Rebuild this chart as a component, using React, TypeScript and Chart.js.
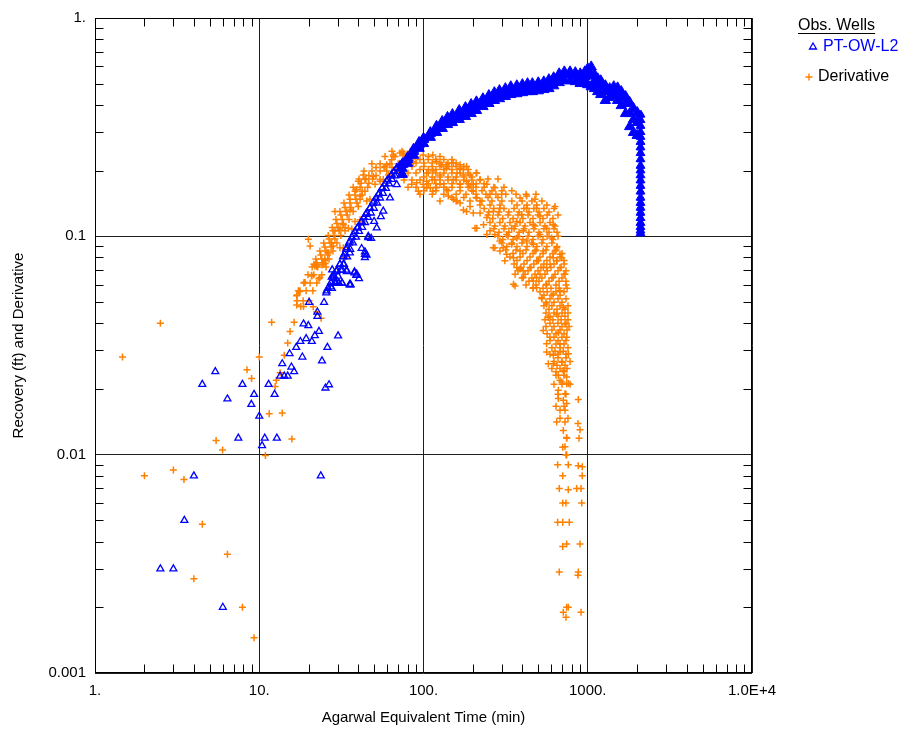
import React, { useEffect, useRef } from 'react';
import { Chart, registerables } from 'chart.js';

Chart.register(...registerables);

const FONT = '"Liberation Sans", Arial, Helvetica, sans-serif';

const xTickValues = [1, 10, 100, 1000, 10000];
const xTickLabels = ['1.', '10.', '100.', '1000.', '1.0E+4'];
const yTickValues = [0.001, 0.01, 0.1, 1];
const yTickLabels = ['0.001', '0.01', '0.1', '1.'];

const xTitle = 'Agarwal Equivalent Time (min)';
const yTitle = 'Recovery (ft) and Derivative';
const legendTitle = 'Obs. Wells';
const wellName = 'PT-OW-L2';
const derivName = 'Derivative';

// Observation well: early, sparse recovery points [time (min), recovery (ft)]
const wellEarly: [number, number][] = [
  [2.5, 0.003], [3.0, 0.003], [3.5, 0.005], [6.0, 0.002], [4.0, 0.008], [23.7, 0.008],
  [5.4, 0.024], [4.5, 0.021], [6.4, 0.018], [7.9, 0.021], [9.3, 0.0189], [8.95, 0.017],
  [10, 0.015], [7.46, 0.0119], [10.8, 0.0119], [10.4, 0.011], [12.8, 0.0119],
  [11.4, 0.021], [12.4, 0.0189], [13.8, 0.0261], [15.7, 0.0252], [16.3, 0.024],
  [13.4, 0.0229], [14.2, 0.0229], [14.9, 0.0229], [15.3, 0.029], [16.8, 0.031],
  [18.3, 0.028], [17.8, 0.033], [19.3, 0.034], [20.9, 0.033], [21.8, 0.0351],
  [23.1, 0.0367], [26, 0.031], [24.1, 0.0269], [25.3, 0.0202], [26.6, 0.0209],
  [30.2, 0.035], [18.6, 0.0397], [19.9, 0.039], [20.1, 0.0498], [22.6, 0.045],
  [22.6, 0.043], [24.8, 0.0498], [25.6, 0.0551], [27.3, 0.061], [29.0, 0.061],
  [30.3, 0.061], [32, 0.061], [27.2, 0.0587], [35.5, 0.06], [28.3, 0.0664],
  [27.8, 0.0702], [32, 0.07], [34, 0.07], [38, 0.0688], [39, 0.0662], [33, 0.083],
  [35.6, 0.084], [44, 0.08],
];

// Observation well: the two strands of the rising limb
const wellStrands: [number, number][] = [
  [25.7, 0.0563], [28.2, 0.0647], [31.0, 0.0745], [34.1, 0.0887], [37.4, 0.102],
  [42.0, 0.117], [47.2, 0.135], [53.1, 0.155], [59.7, 0.179], [68.7, 0.2055],
  [29.5, 0.069], [32.5, 0.081], [35.7, 0.095], [39.5, 0.109], [44.5, 0.126],
  [50, 0.145], [56.3, 0.167], [64, 0.192],
  [35.7, 0.0604], [39.2, 0.0671], [44.0, 0.0828], [46.1, 0.0986], [51.9, 0.1094],
  [56.9, 0.1304], [62.5, 0.15], [68.7, 0.1726], [75.4, 0.1917],
  [27.6, 0.065], [29.4, 0.061], [30.6, 0.061], [31.9, 0.061], [36.0, 0.06],
  [38.0, 0.068], [40.5, 0.064], [34.1, 0.069], [32.5, 0.0745], [44.0, 0.085],
  [45, 0.082], [42, 0.088], [48, 0.098], [46.1, 0.1], [50, 0.117], [55, 0.123],
];

// Observation well: the dense main strand of the rising limb (two close columns)
const limbLevel = [
  0.0578, 0.0616, 0.0657, 0.07, 0.0745, 0.0805, 0.0872, 0.0933, 0.0991, 0.1053, 0.11,
  0.1157, 0.1222, 0.1279, 0.1345, 0.1421, 0.1498, 0.1573, 0.1657, 0.174, 0.1822, 0.1893,
  0.1984, 0.2059, 0.2125, 0.2191,
];
const limbTimeA = [
  26.2, 27.4, 28.5, 29.7, 31.0, 32.4, 33.8, 35.2, 36.7, 38.3, 40.0, 41.7, 43.4, 45.2, 47.2,
  49.3, 51.4, 53.6, 55.9, 58.3, 60.8, 63.4, 66.2, 69.0, 71.9, 75.0,
];
const limbTimeB = [
  27.7, 29.0, 30.2, 31.4, 32.8, 34.3, 35.8, 37.2, 38.8, 40.5, 42.3, 44.1, 45.9, 47.8, 49.9,
  52.2, 54.4, 56.7, 59.1, 61.7, 64.3, 67.1, 70.0, 73.0, 76.1, 79.4,
];

// Observation well: dense band (upper / middle / lower part of the cloud)
const bandTime = [
  74, 80, 87, 94, 100, 110, 120, 130, 140, 150, 165, 180, 195, 210, 230, 250, 270, 290,
  315, 340, 370, 400, 430, 460, 500, 540, 580, 620, 670, 720, 780, 840, 900, 960, 1000,
  1050, 1100, 1150, 1200, 1280, 1360, 1440, 1520, 1600, 1700, 1800, 1900, 2000,
];
const bandUpper = [
  0.2134, 0.2291, 0.2506, 0.2692, 0.281, 0.2986, 0.3192, 0.3358, 0.3505, 0.3613, 0.3769,
  0.3887, 0.4014, 0.4131, 0.4268, 0.4415, 0.4552, 0.465, 0.4748, 0.4846, 0.4895, 0.4954,
  0.5003, 0.5003, 0.5052, 0.5101, 0.5218, 0.5326, 0.5551, 0.5668, 0.5668, 0.5619, 0.5551,
  0.5668, 0.5854, 0.5972, 0.5492, 0.5267, 0.5159, 0.4895, 0.4748, 0.4846, 0.4787, 0.4601,
  0.4366, 0.4102, 0.3847, 0.3691,
];
const bandMid = [
  0.205, 0.225, 0.245, 0.264, 0.278, 0.296, 0.312, 0.328, 0.343, 0.35, 0.365, 0.377,
  0.389, 0.401, 0.414, 0.427, 0.441, 0.45, 0.46, 0.469, 0.474, 0.48, 0.485, 0.485,
  0.49, 0.495, 0.505, 0.516, 0.538, 0.55, 0.55, 0.544, 0.532, 0.538, 0.544, 0.544,
  0.516, 0.5, 0.485, 0.46, 0.46, 0.469, 0.455, 0.432, 0.406, 0.365, 0.343, 0.332,
];
const bandLower = [
  0.192, 0.216, 0.235, 0.253, 0.266, 0.284, 0.299, 0.312, 0.325, 0.332, 0.343, 0.354,
  0.365, 0.377, 0.393, 0.406, 0.419, 0.427, 0.437, 0.446, 0.45, 0.455, 0.46, 0.46,
  0.464, 0.47, 0.475, 0.489, 0.506, 0.516, 0.516, 0.511, 0.501, 0.501, 0.495, 0.484,
  0.475, 0.46, 0.446, 0.419, 0.432, 0.441, 0.419, 0.397, 0.365, 0.318, 0.299, 0.29,
];

// Observation well: final drop at the end of the test
const dropTime = [2080, 2110];
const dropLevels = [
  0.36, 0.34, 0.32, 0.3, 0.285, 0.27, 0.255, 0.24, 0.225, 0.21, 0.2, 0.19, 0.18, 0.17,
  0.16, 0.15, 0.142, 0.135, 0.128, 0.121, 0.115, 0.11, 0.106, 0.103,
];

// Derivative: early sparse points
const derivEarly: [number, number][] = [
  [1.47, 0.028], [2.5, 0.04], [2.0, 0.008], [3.0, 0.0085], [3.48, 0.0077], [4.5, 0.0048],
  [6.4, 0.0035], [4.0, 0.0027], [7.9, 0.002], [9.3, 0.00145], [5.46, 0.0116],
  [5.98, 0.0105], [8.42, 0.0245], [8.98, 0.0223], [10, 0.028], [10.9, 0.0099],
  [11.5, 0.0154], [13.8, 0.0155], [15.8, 0.0118], [11.9, 0.0404], [12.5, 0.0205],
  [12.7, 0.0219], [13.4, 0.0237], [14.2, 0.0285], [14.9, 0.0325], [15.4, 0.0367],
  [16.3, 0.0404],
];

// Derivative: rising part
const derivRise: [number, number][] = [
  [16.9, 0.0485], [17.9, 0.0477], [18.6, 0.0477], [17, 0.0538], [17.6, 0.0559],
  [18.8, 0.0615], [20.8, 0.0664], [23.1, 0.064], [21.5, 0.0745], [22.3, 0.073],
  [24.1, 0.074], [25.2, 0.075], [25.1, 0.0785], [26.1, 0.084], [21.3, 0.0476],
  [22.3, 0.045], [23.8, 0.0422], [19.9, 0.097], [20.4, 0.0903], [17.3, 0.0563],
  [16.9, 0.0534], [19.0, 0.0614], [20.9, 0.0659], [23.4, 0.0647], [21.8, 0.0732],
  [22.3, 0.0745], [24.5, 0.0745], [25.1, 0.0772], [26.4, 0.0842], [27.6, 0.0935],
  [28.2, 0.0903], [28.9, 0.106], [31.0, 0.108], [31.0, 0.0887], [32.5, 0.0887],
  [33.3, 0.0798], [33.3, 0.106], [34.9, 0.109], [36.6, 0.108], [32.5, 0.113],
  [28.9, 0.13], [35.7, 0.132], [38.3, 0.117], [41.1, 0.119], [43.0, 0.117],
  [40.1, 0.137], [41.1, 0.148], [45.1, 0.145], [47.2, 0.148], [41.1, 0.153],
  [39.2, 0.164], [44.0, 0.161], [44.0, 0.182], [40.1, 0.179], [43.0, 0.191],
  [49.5, 0.188], [50.7, 0.173], [54.4, 0.179], [56.9, 0.182], [59.7, 0.199],
  [59.7, 0.213], [64.0, 0.224], [65.5, 0.236], [71.9, 0.241], [75.4, 0.241],
  [80.9, 0.236], [84.8, 0.228], [79.1, 0.213], [71.9, 0.205], [67.1, 0.195],
  [86.7, 0.216],
  [17.0, 0.0507], [18.5, 0.0507], [20.1, 0.0507], [17.7, 0.0563], [19.3, 0.0563],
  [21.2, 0.0563], [18.7, 0.0612], [20.4, 0.0612], [22.4, 0.0612], [19.8, 0.0666],
  [21.5, 0.0666], [24.05, 0.0666], [21.0, 0.0724], [22.7, 0.0724], [25.5, 0.0724],
  [22.1, 0.0788], [24.05, 0.0788], [26.6, 0.0788], [23.4, 0.0857], [25.5, 0.0857],
  [28.1, 0.0857], [24.7, 0.0932], [27.0, 0.0932], [29.7, 0.0932], [26.3, 0.101],
  [28.5, 0.101], [31.4, 0.101], [27.8, 0.1098], [30.2, 0.1098], [33.3, 0.1098],
  [29.3, 0.1195], [32.0, 0.1195], [35.2, 0.1195], [31.0, 0.13], [33.8, 0.13],
  [37.3, 0.13], [32.8, 0.142], [35.7, 0.142], [39.4, 0.142], [35.2, 0.1546],
  [38.3, 0.1546], [42.3, 0.1546], [37.3, 0.168], [41.1, 0.168], [45.7, 0.168],
  [40.5, 0.183], [44.6, 0.183], [49.0, 0.183], [43.4, 0.199], [48.5, 0.199],
  [54.4, 0.199], [48.5, 0.215], [54.4, 0.215], [62.5, 0.215], [70.0, 0.215],
  [58.3, 0.232], [67.1, 0.232], [77.2, 0.232], [88.8, 0.232], [64.25, 0.245],
  [74.0, 0.245], [82.8, 0.245],
  [22.4, 0.0756], [24.5, 0.0756], [23.7, 0.0822], [26.1, 0.0822], [25.1, 0.0894],
  [27.4, 0.0894], [26.6, 0.0972], [28.9, 0.0972], [28.1, 0.106], [30.6, 0.106],
  [29.7, 0.1145], [32.4, 0.1145], [31.4, 0.1253], [34.3, 0.1253], [33.3, 0.1356],
  [36.2, 0.1356], [35.7, 0.148], [38.8, 0.148], [38.3, 0.161], [42.3, 0.161],
  [41.7, 0.1752], [46.5, 0.1752], [46.5, 0.19], [51.4, 0.19], [51.4, 0.2068],
  [57.5, 0.2068], [64.3, 0.2068],
];

// Derivative: peak plateau
const derivPeak: [number, number][] = [
  [99.6, 0.236], [107, 0.232], [114, 0.236], [126, 0.232], [120, 0.22], [138, 0.213],
  [152, 0.216], [167, 0.205], [175, 0.191], [183, 0.179], [192, 0.17], [201, 0.161],
  [211, 0.15], [206, 0.109], [183, 0.13], [167, 0.142], [152, 0.148], [138, 0.164],
  [120, 0.167], [114, 0.161], [104.5, 0.167], [99.6, 0.173], [90.9, 0.176],
  [104.5, 0.195], [126, 0.191], [152, 0.182], [65.6, 0.232], [75.4, 0.236],
  [86.7, 0.22], [58.3, 0.209], [61.1, 0.191], [54.4, 0.182], [84.8, 0.173],
  [93.0, 0.161], [104.5, 0.179], [114, 0.199], [129, 0.213], [138, 0.205],
  [148.5, 0.216], [167, 0.213], [175, 0.2026], [160, 0.195], [183, 0.209],
  [192, 0.191], [211, 0.195], [221, 0.182], [201, 0.173], [167, 0.173], [126, 0.173],
  [117, 0.182], [110, 0.167], [141.6, 0.153], [160, 0.145], [175, 0.132],
  [192, 0.137], [201, 0.128], [221, 0.145],
  [95.2, 0.2246], [106.9, 0.2246], [118.6, 0.2246], [133, 0.2246], [149, 0.2246],
  [76.1, 0.209], [85.1, 0.209], [100.6, 0.209], [113, 0.209], [126, 0.209], [141, 0.209],
  [158, 0.209], [176, 0.209], [71.9, 0.195], [80.5, 0.195], [90.1, 0.195], [107, 0.195],
  [119, 0.195], [133, 0.195], [149, 0.195], [167, 0.195], [186.6, 0.195], [209, 0.195],
  [76.1, 0.181], [85.1, 0.181], [95.2, 0.181], [113, 0.181], [126, 0.181], [141, 0.181],
  [158, 0.181], [176, 0.181], [197, 0.181], [221, 0.181], [80.5, 0.168], [90.1, 0.168],
  [100.6, 0.168], [119, 0.168], [133, 0.168], [149, 0.168], [167, 0.168], [187, 0.168],
  [209, 0.168], [234, 0.168], [95.2, 0.156], [113, 0.156], [133, 0.156], [158, 0.156],
  [181.5, 0.156], [209, 0.156], [240, 0.156], [276, 0.156], [126, 0.145], [158, 0.145],
  [192, 0.145], [227, 0.145], [261, 0.145], [300, 0.145],
  [90.1, 0.2165], [100.6, 0.2165], [113, 0.2165], [126, 0.2165], [141, 0.2165],
  [158, 0.2165], [95.2, 0.2022], [107, 0.2022], [119, 0.2022], [133, 0.2022],
  [149, 0.2022], [167, 0.2022], [187, 0.2022], [100.6, 0.187], [113, 0.187], [126, 0.187],
  [141, 0.187], [158, 0.187], [176, 0.187], [197, 0.187], [107, 0.1743], [119, 0.1743],
  [133, 0.1743], [149, 0.1743], [167, 0.1743], [187, 0.1743], [209, 0.1743],
  [234, 0.1743], [100.6, 0.1618], [119, 0.1618], [141, 0.1618], [167, 0.1618],
  [197, 0.1618], [227, 0.1618], [261, 0.1618], [300, 0.1618], [345, 0.1618],
  [149, 0.1506], [176, 0.1506], [209, 0.1506], [247, 0.1506], [284, 0.1506],
];

// Derivative: falling part
const derivFall: [number, number][] = [
  [243, 0.173], [254, 0.156], [272, 0.167], [299, 0.156], [292, 0.1345], [266, 0.13],
  [243, 0.122], [221, 0.128], [211, 0.109], [232, 0.113], [254, 0.106], [272, 0.102],
  [292, 0.0952], [272, 0.0887], [306, 0.0887], [321, 0.102], [344, 0.109], [370, 0.117],
  [396, 0.126], [425, 0.1345], [387, 0.15], [425, 0.153], [477, 0.148], [488, 0.1345],
  [512, 0.124], [466, 0.113], [405, 0.106], [370, 0.0982], [344, 0.0919], [321, 0.0828],
  [353, 0.0798], [387, 0.0857], [425, 0.0952], [466, 0.0919], [512, 0.102], [562, 0.109],
  [617, 0.113], [603, 0.0982], [536, 0.0857], [488, 0.0772], [445, 0.0719], [387, 0.0708],
  [361, 0.0671], [361, 0.0593], [405, 0.0647], [466, 0.0625], [512, 0.0671], [562, 0.0719],
  [617, 0.0798], [647, 0.0887], [678, 0.0828], [678, 0.0719], [617, 0.0647], [562, 0.0604],
  [488, 0.0582], [632, 0.137], [353, 0.0604], [466, 0.0582], [488, 0.0647], [524, 0.0524],
  [562, 0.049], [617, 0.0544], [678, 0.0563], [727, 0.0671], [710, 0.0472], [647, 0.0441],
  [575, 0.0425], [536, 0.037], [589, 0.0345], [662, 0.0363], [727, 0.0397], [744, 0.0345],
  [678, 0.0322], [562, 0.0322], [647, 0.0772], [694, 0.0798], [632, 0.0857], [589, 0.0745],
  [536, 0.0719], [500, 0.0772], [477, 0.0857], [292, 0.0857], [266, 0.0887], [370, 0.0719],
  [313, 0.0772], [405, 0.0695], [243, 0.102],
  [247, 0.183], [284, 0.183], [268, 0.168], [309, 0.168], [317, 0.156], [366, 0.156],
  [421, 0.156], [484, 0.156], [345, 0.145], [398, 0.145], [457, 0.145], [526, 0.145],
  [234, 0.134], [268, 0.134], [309, 0.134], [356, 0.134], [409, 0.134], [470, 0.134],
  [541, 0.134], [623, 0.134], [247, 0.1253], [284, 0.1253], [327, 0.1253], [376, 0.1253],
  [433, 0.1253], [498, 0.1253], [566, 0.1253], [659, 0.1253], [254, 0.1158], [292, 0.1158],
  [336, 0.1158], [387, 0.1158], [445, 0.1158], [512, 0.1158], [589, 0.1158],
  [268, 0.1082], [309, 0.1082], [356, 0.1082], [409, 0.1082], [470, 0.1082], [541, 0.1082],
  [623, 0.1082], [284, 0.1], [327, 0.1], [376, 0.1], [433, 0.1], [498, 0.1], [566, 0.1],
  [659, 0.1], [300, 0.0932], [345, 0.0932], [398, 0.0932], [457, 0.0932], [526, 0.0932],
  [605, 0.0932], [317, 0.0866], [366, 0.0866], [421, 0.0866], [484, 0.0866], [557, 0.0866],
  [641, 0.0866], [336, 0.0805], [387, 0.0805], [445, 0.0805], [512, 0.0805], [589, 0.0805],
  [678, 0.0805], [356, 0.0747], [409, 0.0747], [470, 0.0747], [541, 0.0747], [623, 0.0747],
  [717, 0.0747], [376, 0.0695], [433, 0.0695], [498, 0.0695], [566, 0.0695], [659, 0.0695],
  [737, 0.0695], [398, 0.0645], [457, 0.0645], [526, 0.0645], [605, 0.0645], [697, 0.0645],
  [421, 0.0599], [484, 0.0599], [557, 0.0599], [641, 0.0599], [737, 0.0599],
  [221, 0.1392], [254, 0.1392], [292, 0.1392], [371, 0.1392], [427, 0.1392], [490, 0.1392],
  [564, 0.1392], [250, 0.1293], [288, 0.1293], [331, 0.1293], [382, 0.1293], [439, 0.1293],
  [505, 0.1293], [581, 0.1293], [264, 0.1208], [304, 0.1208], [351, 0.1208], [403, 0.1208],
  [464, 0.1208], [534, 0.1208], [614, 0.1208], [272, 0.1116], [313, 0.1116], [361, 0.1116],
  [415, 0.1116], [477, 0.1116], [549, 0.1116], [632, 0.1116], [288, 0.1043], [331, 0.1043],
  [382, 0.1043], [439, 0.1043], [505, 0.1043], [581, 0.1043], [650, 0.1043], [304, 0.0967],
  [351, 0.0967], [403, 0.0967], [464, 0.0967], [534, 0.0967], [614, 0.0967], [322, 0.0898],
  [371, 0.0898], [427, 0.0898], [490, 0.0898], [564, 0.0898], [650, 0.0898], [351, 0.0835],
  [403, 0.0835], [464, 0.0835], [534, 0.0835], [614, 0.0835], [697, 0.0835], [371, 0.0776],
  [427, 0.0776], [490, 0.0776], [564, 0.0776], [650, 0.0776], [717, 0.0776], [392, 0.072],
  [451, 0.072], [519, 0.072], [597, 0.072], [688, 0.072], [415, 0.067], [477, 0.067],
  [549, 0.067], [632, 0.067], [717, 0.067], [439, 0.0622], [505, 0.0622], [581, 0.0622],
  [669, 0.0622], [737, 0.0622], [464, 0.0578], [534, 0.0578], [597, 0.0578], [669, 0.0578],
  [748, 0.0578],
];

// Derivative: late column
const derivColumn: [number, number][] = [
  [512, 0.0557], [566, 0.0557], [641, 0.0557], [717, 0.0557], [526, 0.0518], [589, 0.0518],
  [659, 0.0518], [737, 0.0518], [541, 0.0481], [605, 0.0481], [678, 0.0481], [758, 0.0481],
  [557, 0.0446], [623, 0.0446], [697, 0.0446], [758, 0.0446], [549, 0.0415], [614, 0.0415],
  [688, 0.0415], [758, 0.0415], [557, 0.0386], [623, 0.0386], [697, 0.0386], [769, 0.0386],
  [566, 0.0358], [641, 0.0358], [717, 0.0358], [589, 0.0333], [659, 0.0333], [737, 0.0333],
  [605, 0.0309], [678, 0.0309], [758, 0.0309], [589, 0.0288], [659, 0.0288], [737, 0.0288],
  [623, 0.0267], [697, 0.0267], [780, 0.0267], [605, 0.0248], [678, 0.0248], [748, 0.0248],
  [641, 0.0231], [717, 0.0231], [623, 0.021], [697, 0.021], [780, 0.021], [659, 0.0189],
  [737, 0.0189], [641, 0.01666], [717, 0.01666], [678, 0.0147], [758, 0.0147],
  [541, 0.0537], [605, 0.0537], [678, 0.0537], [557, 0.0499], [623, 0.0499], [697, 0.0499],
  [581, 0.0463], [650, 0.0463], [727, 0.0463], [589, 0.0431], [659, 0.0431], [727, 0.0431],
  [589, 0.04], [659, 0.04], [737, 0.04], [605, 0.0372], [678, 0.0372], [748, 0.0372],
  [623, 0.0345], [697, 0.0345], [641, 0.0321], [717, 0.0321], [632, 0.0298], [710, 0.0298],
  [659, 0.0278], [737, 0.0278], [650, 0.0257], [727, 0.0257], [641, 0.024], [717, 0.024],
  [562, 0.0295], [617, 0.0285], [678, 0.0295], [762, 0.029], [575, 0.0261], [617, 0.0261],
  [694, 0.0265], [710, 0.0243], [662, 0.0231], [744, 0.0227], [678, 0.0219], [762, 0.0212],
  [662, 0.0197], [727, 0.019], [744, 0.0211], [694, 0.0215], [710, 0.01774], [662, 0.01806],
  [744, 0.01714], [678, 0.01597], [727, 0.01597], [647, 0.01413], [727, 0.01413],
  [710, 0.0129], [744, 0.012], [727, 0.01086], [737, 0.00996],
  [876, 0.0179], [872, 0.0139], [897, 0.013], [885, 0.0119], [744, 0.0119], [704, 0.0108],
  [744, 0.01], [656, 0.009], [761, 0.009], [876, 0.0089], [926, 0.0088], [704, 0.008],
  [926, 0.008], [671, 0.007], [761, 0.0069], [856, 0.007], [910, 0.007], [704, 0.006],
  [737, 0.006], [919, 0.006], [656, 0.0049], [704, 0.0049], [772, 0.0049], [744, 0.0039],
  [704, 0.0038], [897, 0.0039], [671, 0.0029], [876, 0.0029], [872, 0.0028], [761, 0.002],
  [744, 0.002], [710, 0.0019], [737, 0.0018], [910, 0.0019],
];

const BLUE = '#0000ff';
const ORANGE = '#ff8000';

const toPts = (arr: [number, number][]) => arr.map(([x, y]) => ({ x, y }));

const decorPlugin = {
  id: 'decor',
  afterDraw(chart: any) {
    const { ctx, chartArea: a, scales } = chart;
    const xs = scales.x;
    const ys = scales.y;
    ctx.save();
    ctx.strokeStyle = '#000';
    ctx.lineWidth = 1;
    const L = Math.round(a.left) + 0.5;
    const T = Math.round(a.top) + 0.5;
    const R = Math.round(a.right) - 0.5;
    const B = Math.round(a.bottom) - 0.5;
    ctx.strokeRect(L, T, R - L, B - T);
    ctx.beginPath();
    for (let k = 0; k < 4; k++) {
      for (let m = 2; m <= 9; m++) {
        const v = m * Math.pow(10, k);
        const px = Math.round(xs.getPixelForValue(v)) + 0.5;
        ctx.moveTo(px, B);
        ctx.lineTo(px, B - 8);
        ctx.moveTo(px, T);
        ctx.lineTo(px, T + 8);
      }
    }
    for (let k = -3; k < 0; k++) {
      for (let m = 2; m <= 9; m++) {
        const v = m * Math.pow(10, k);
        const py = Math.round(ys.getPixelForValue(v)) + 0.5;
        ctx.moveTo(L, py);
        ctx.lineTo(L + 8, py);
        ctx.moveTo(R, py);
        ctx.lineTo(R - 8, py);
      }
    }
    ctx.stroke();

    ctx.fillStyle = '#000';
    ctx.font = `15px ${FONT}`;
    ctx.textAlign = 'center';
    ctx.textBaseline = 'middle';
    ctx.fillText(xTitle, (a.left + a.right) / 2, 718);
    ctx.save();
    ctx.translate(19, (a.top + a.bottom) / 2);
    ctx.rotate(-Math.PI / 2);
    ctx.fillText(yTitle, 0, 0);
    ctx.restore();

    ctx.font = `16px ${FONT}`;
    ctx.textAlign = 'left';
    ctx.fillStyle = '#000';
    ctx.fillText(legendTitle, 798, 26);
    const w = ctx.measureText(legendTitle).width;
    ctx.beginPath();
    ctx.moveTo(798, 33.5);
    ctx.lineTo(798 + w, 33.5);
    ctx.stroke();

    ctx.strokeStyle = BLUE;
    ctx.lineWidth = 1.3;
    const r = 4;
    const cx = 813;
    const cy = 47;
    ctx.beginPath();
    ctx.moveTo(cx, cy - r);
    ctx.lineTo(cx + r * 0.866, cy + r / 2);
    ctx.lineTo(cx - r * 0.866, cy + r / 2);
    ctx.closePath();
    ctx.stroke();
    ctx.fillStyle = BLUE;
    ctx.fillText(wellName, 823, 47);

    ctx.strokeStyle = ORANGE;
    ctx.lineWidth = 1.4;
    ctx.beginPath();
    ctx.moveTo(805.5, 77);
    ctx.lineTo(812.5, 77);
    ctx.moveTo(809, 73.5);
    ctx.lineTo(809, 80.5);
    ctx.stroke();
    ctx.fillStyle = '#000';
    ctx.fillText(derivName, 818, 77);

    ctx.restore();
  },
};

export default function App() {
  const ref = useRef<HTMLCanvasElement | null>(null);

  useEffect(() => {
    if (!ref.current) return;
    const bandPoints = bandTime.flatMap((t, i) => [
      { x: t, y: bandUpper[i] },
      { x: t, y: bandMid[i] },
      { x: t, y: bandLower[i] },
    ]);
    const dropPoints = dropTime.flatMap((t) => dropLevels.map((y) => ({ x: t, y })));
    const limbPoints = [
      ...limbTimeA.map((t, i) => ({ x: t, y: limbLevel[i] })),
      ...limbTimeB.map((t, i) => ({ x: t, y: limbLevel[i] })),
    ];
    const wellPts = [...toPts(wellEarly), ...toPts(wellStrands), ...limbPoints];
    const derivPts = [
      ...toPts(derivEarly),
      ...toPts(derivRise),
      ...toPts(derivPeak),
      ...toPts(derivFall),
      ...toPts(derivColumn),
    ];

    const tickFont = { family: FONT, size: 15 };

    const chart = new Chart(ref.current, {
      type: 'scatter',
      data: {
        datasets: [
          {
            label: wellName,
            data: bandPoints,
            pointStyle: 'triangle',
            pointRadius: 6,
            borderColor: BLUE,
            backgroundColor: BLUE,
            pointBorderWidth: 1,
          },
          {
            label: wellName,
            data: dropPoints,
            pointStyle: 'triangle',
            pointRadius: 4.5,
            borderColor: BLUE,
            backgroundColor: BLUE,
            pointBorderWidth: 1,
          },
          {
            label: wellName,
            data: wellPts,
            pointStyle: 'triangle',
            pointRadius: 4,
            borderColor: BLUE,
            backgroundColor: 'rgba(0,0,0,0)',
            pointBorderWidth: 1.3,
          },
          {
            label: derivName,
            data: derivPts,
            pointStyle: 'cross',
            pointRadius: 3.5,
            borderColor: ORANGE,
            backgroundColor: ORANGE,
            pointBorderWidth: 1.5,
          },
        ],
      },
      options: {
        animation: false,
        responsive: false,
        devicePixelRatio: 1,
        layout: { padding: { left: 0, right: 151, top: 16, bottom: 0 } },
        plugins: {
          legend: { display: false },
          tooltip: { enabled: false },
        },
        scales: {
          x: {
            type: 'logarithmic',
            position: 'bottom',
            min: 1,
            max: 10000,
            afterBuildTicks: (s: any) => {
              s.ticks = xTickValues.map((v) => ({ value: v }));
            },
            afterFit: (s: any) => {
              s.height = 60;
            },
            ticks: {
              autoSkip: false,
              maxRotation: 0,
              minRotation: 0,
              padding: 9,
              color: '#000',
              font: tickFont,
              callback: (_v: any, i: number) => xTickLabels[i],
            },
            grid: { color: '#1e1e1e', lineWidth: 1, drawTicks: false },
            border: { display: false },
            title: { display: false },
          },
          y: {
            type: 'logarithmic',
            position: 'left',
            min: 0.001,
            max: 1,
            afterBuildTicks: (s: any) => {
              s.ticks = yTickValues.map((v) => ({ value: v }));
            },
            afterFit: (s: any) => {
              s.width = 95;
            },
            ticks: {
              autoSkip: false,
              padding: 9,
              color: '#000',
              font: tickFont,
              callback: (_v: any, i: number) => yTickLabels[i],
            },
            grid: { color: '#1e1e1e', lineWidth: 1, drawTicks: false },
            border: { display: false },
            title: { display: false },
          },
        },
      },
      plugins: [decorPlugin],
    } as any);

    return () => chart.destroy();
  }, []);

  return (
    <div style={{ position: 'absolute', left: 0, top: 0, width: 903, height: 733, background: '#fff' }}>
      <canvas ref={ref} width={903} height={733} style={{ display: 'block', width: 903, height: 733 }} />
    </div>
  );
}
